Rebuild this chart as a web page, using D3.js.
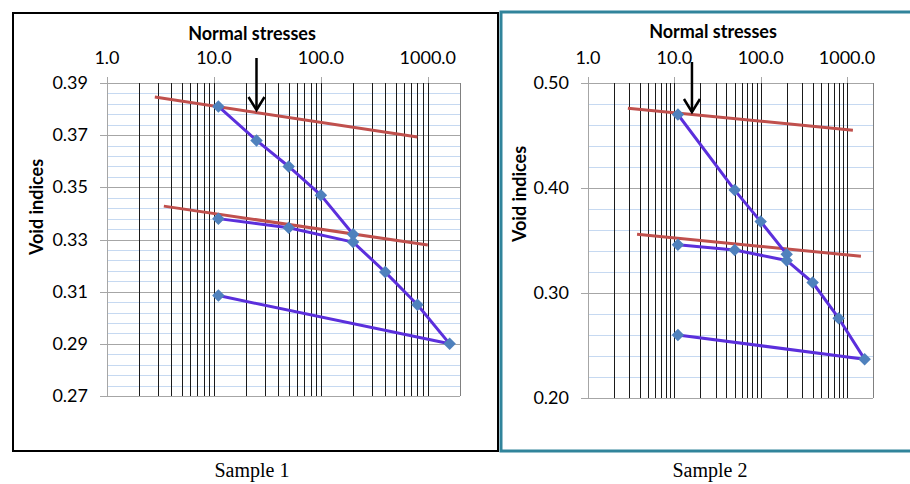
<!DOCTYPE html>
<html>
<head>
<meta charset="utf-8">
<script src="https://cdn.jsdelivr.net/npm/d3@7"></script>
<style>
  body { margin: 0; background: #fff; }
  svg { display: block; }
</style>
</head>
<body>
<div id="chart"></div>
<script>
// stress axis (log), shared by both samples
const xTicks = [1, 10, 100, 1000];
const xTickLabels = ["1.0", "10.0", "100.0", "1000.0"];

// sample 1
const s1YTicks = [0.27, 0.29, 0.31, 0.33, 0.35, 0.37, 0.39];
const s1Load = [[11, 0.381], [25, 0.368], [50, 0.358], [100, 0.347], [200, 0.332]];
const s1Cycle = [[11, 0.338], [50, 0.3345], [200, 0.329], [400, 0.3175], [800, 0.305], [1600, 0.290], [11, 0.3085]];
const s1Fit1 = [[2.8, 0.3846], [800, 0.3693]];
const s1Fit2 = [[3.4, 0.3428], [1000, 0.3279]];
const s1Arrow = 25;

// sample 2
const s2YTicks = [0.20, 0.30, 0.40, 0.50];
const s2Load = [[11, 0.470], [50, 0.398], [100, 0.368], [200, 0.337]];
const s2Cycle = [[11, 0.346], [50, 0.341], [200, 0.331], [400, 0.310], [800, 0.276], [1600, 0.237], [11, 0.260]];
const s2Fit1 = [[2.9, 0.476], [1170, 0.455]];
const s2Fit2 = [[3.7, 0.356], [1450, 0.335]];
const s2Arrow = 16;

const W = 910, H = 484;
const svg = d3.select("#chart").append("svg").attr("width", W).attr("height", H);

// frames
svg.append("rect").attr("x", 13).attr("y", 13).attr("width", 485).attr("height", 438)
  .attr("fill", "none").attr("stroke", "#000").attr("stroke-width", 2);
svg.append("rect").attr("x", 501).attr("y", 12).attr("width", 420).attr("height", 439)
  .attr("fill", "none").attr("stroke", "#31849b").attr("stroke-width", 3);

const font = "Lato, 'Open Sans', sans-serif";

function panel(cfg) {
  let g = svg.append("g");
  let x = d3.scaleLog().domain([1, 2000]).range([cfg.x0, cfg.x1]);
  let y = d3.scaleLinear().domain(cfg.yDomain).range([cfg.y1, cfg.y0]);

  // minor horizontal lines
  let minor = d3.range(cfg.yDomain[0], cfg.yDomain[1] + 1e-9, cfg.minorStep);
  g.selectAll(".hmin").data(minor).enter().append("line")
    .attr("x1", cfg.x0).attr("x2", cfg.x1)
    .attr("y1", d => Math.round(y(d)) + 0.5).attr("y2", d => Math.round(y(d)) + 0.5)
    .attr("stroke", "#c6d9f1").attr("stroke-width", 1);

  // major horizontal lines + ticks
  g.selectAll(".hmaj").data(cfg.yTicks).enter().append("line")
    .attr("x1", cfg.x0 - 7).attr("x2", cfg.x1)
    .attr("y1", d => Math.round(y(d)) + 0.5).attr("y2", d => Math.round(y(d)) + 0.5)
    .attr("stroke", "#a6a6a6").attr("stroke-width", 1);

  // top ticks and edges
  g.selectAll(".vtick").data(xTicks).enter().append("line")
    .attr("x1", d => Math.round(x(d)) + 0.5).attr("x2", d => Math.round(x(d)) + 0.5)
    .attr("y1", cfg.y0 - 6).attr("y2", cfg.y0)
    .attr("stroke", "#a6a6a6");
  g.append("line").attr("x1", cfg.x0 + 0.5).attr("x2", cfg.x0 + 0.5)
    .attr("y1", cfg.y0).attr("y2", cfg.y1).attr("stroke", "#a6a6a6");
  g.append("line").attr("x1", cfg.x1 + 0.5).attr("x2", cfg.x1 + 0.5)
    .attr("y1", cfg.y0).attr("y2", cfg.y1).attr("stroke", "#808080");

  // black log grid lines
  let vlines = [];
  [1, 10, 100].forEach(k => { for (let m = 2; m <= 10; m++) vlines.push(m * k); });
  g.selectAll(".vgrid").data(vlines).enter().append("line")
    .attr("x1", d => Math.round(x(d)) + 0.5).attr("x2", d => Math.round(x(d)) + 0.5)
    .attr("y1", cfg.y0).attr("y2", cfg.y1)
    .attr("stroke", "#1a1a1a").attr("stroke-width", 1);

  // labels
  g.selectAll(".xl").data(xTicks).enter().append("text")
    .attr("x", d => x(d)).attr("y", cfg.y0 - 19)
    .attr("text-anchor", "middle")
    .style("font-family", font).style("font-size", "18px")
    .text((d, i) => xTickLabels[i]);
  g.selectAll(".yl").data(cfg.yTicks).enter().append("text")
    .attr("x", cfg.x0 - 19).attr("y", d => y(d) + 6)
    .attr("text-anchor", "end")
    .style("font-family", font).style("font-size", "18px")
    .text(d => d.toFixed(2));

  g.append("text").attr("x", cfg.titleX).attr("y", cfg.titleY)
    .attr("text-anchor", "middle")
    .style("font-family", font).style("font-size", "18px").style("font-weight", "bold")
    .text("Normal stresses");
  g.append("text")
    .attr("transform", "translate(" + cfg.ylabX + "," + cfg.ylabY + ") rotate(-90)")
    .attr("text-anchor", "middle")
    .style("font-family", font).style("font-size", "18px").style("font-weight", "bold")
    .text("Void indices");
  g.append("text").attr("x", cfg.sampleX).attr("y", 477)
    .attr("text-anchor", "middle")
    .style("font-family", "'Liberation Serif', 'Times New Roman', serif").style("font-size", "20px")
    .text(cfg.sample);

  let line = d3.line().x(d => x(d[0])).y(d => y(d[1]));

  // fitted red lines
  [cfg.fit1, cfg.fit2].forEach(f => {
    g.append("path").datum(f).attr("d", line)
      .attr("fill", "none").attr("stroke", "#c0504d").attr("stroke-width", 3);
  });

  // data
  [cfg.load, cfg.cycle].forEach(s => {
    g.append("path").datum(s).attr("d", line)
      .attr("fill", "none").attr("stroke", "#5b2fdc").attr("stroke-width", 3)
      .attr("stroke-linejoin", "round");
  });
  let sym = d3.symbol().type(d3.symbolSquare).size(78);
  g.selectAll(".pt").data(cfg.load.concat(cfg.cycle)).enter().append("path")
    .attr("d", sym)
    .attr("transform", d => "translate(" + x(d[0]) + "," + y(d[1]) + ") rotate(45)")
    .attr("fill", "#4f81bd");

  // arrow
  let ax = x(cfg.arrow);
  g.append("line").attr("x1", ax).attr("x2", ax)
    .attr("y1", cfg.arrowTop).attr("y2", cfg.arrowTip)
    .attr("stroke", "#000").attr("stroke-width", 2.5);
  g.append("path")
    .attr("d", "M" + (ax - 8) + "," + (cfg.arrowTip - 13) + "L" + ax + "," + cfg.arrowTip + "L" + (ax + 8) + "," + (cfg.arrowTip - 13))
    .attr("fill", "none").attr("stroke", "#000").attr("stroke-width", 2.5);
}

panel({
  x0: 107, x1: 460, y0: 83, y1: 396,
  yDomain: [0.27, 0.39], yTicks: s1YTicks, minorStep: 0.004,
  load: s1Load, cycle: s1Cycle, fit1: s1Fit1, fit2: s1Fit2,
  arrow: s1Arrow, arrowTop: 58, arrowTip: 110,
  titleX: 252, titleY: 40, ylabX: 43, ylabY: 207,
  sampleX: 252, sample: "Sample 1"
});

panel({
  x0: 588, x1: 873, y0: 83, y1: 398,
  yDomain: [0.20, 0.50], yTicks: s2YTicks, minorStep: 0.02,
  load: s2Load, cycle: s2Cycle, fit1: s2Fit1, fit2: s2Fit2,
  arrow: s2Arrow, arrowTop: 62, arrowTip: 112,
  titleX: 713, titleY: 38, ylabX: 526, ylabY: 194,
  sampleX: 710, sample: "Sample 2"
});
</script>
</body>
</html>
